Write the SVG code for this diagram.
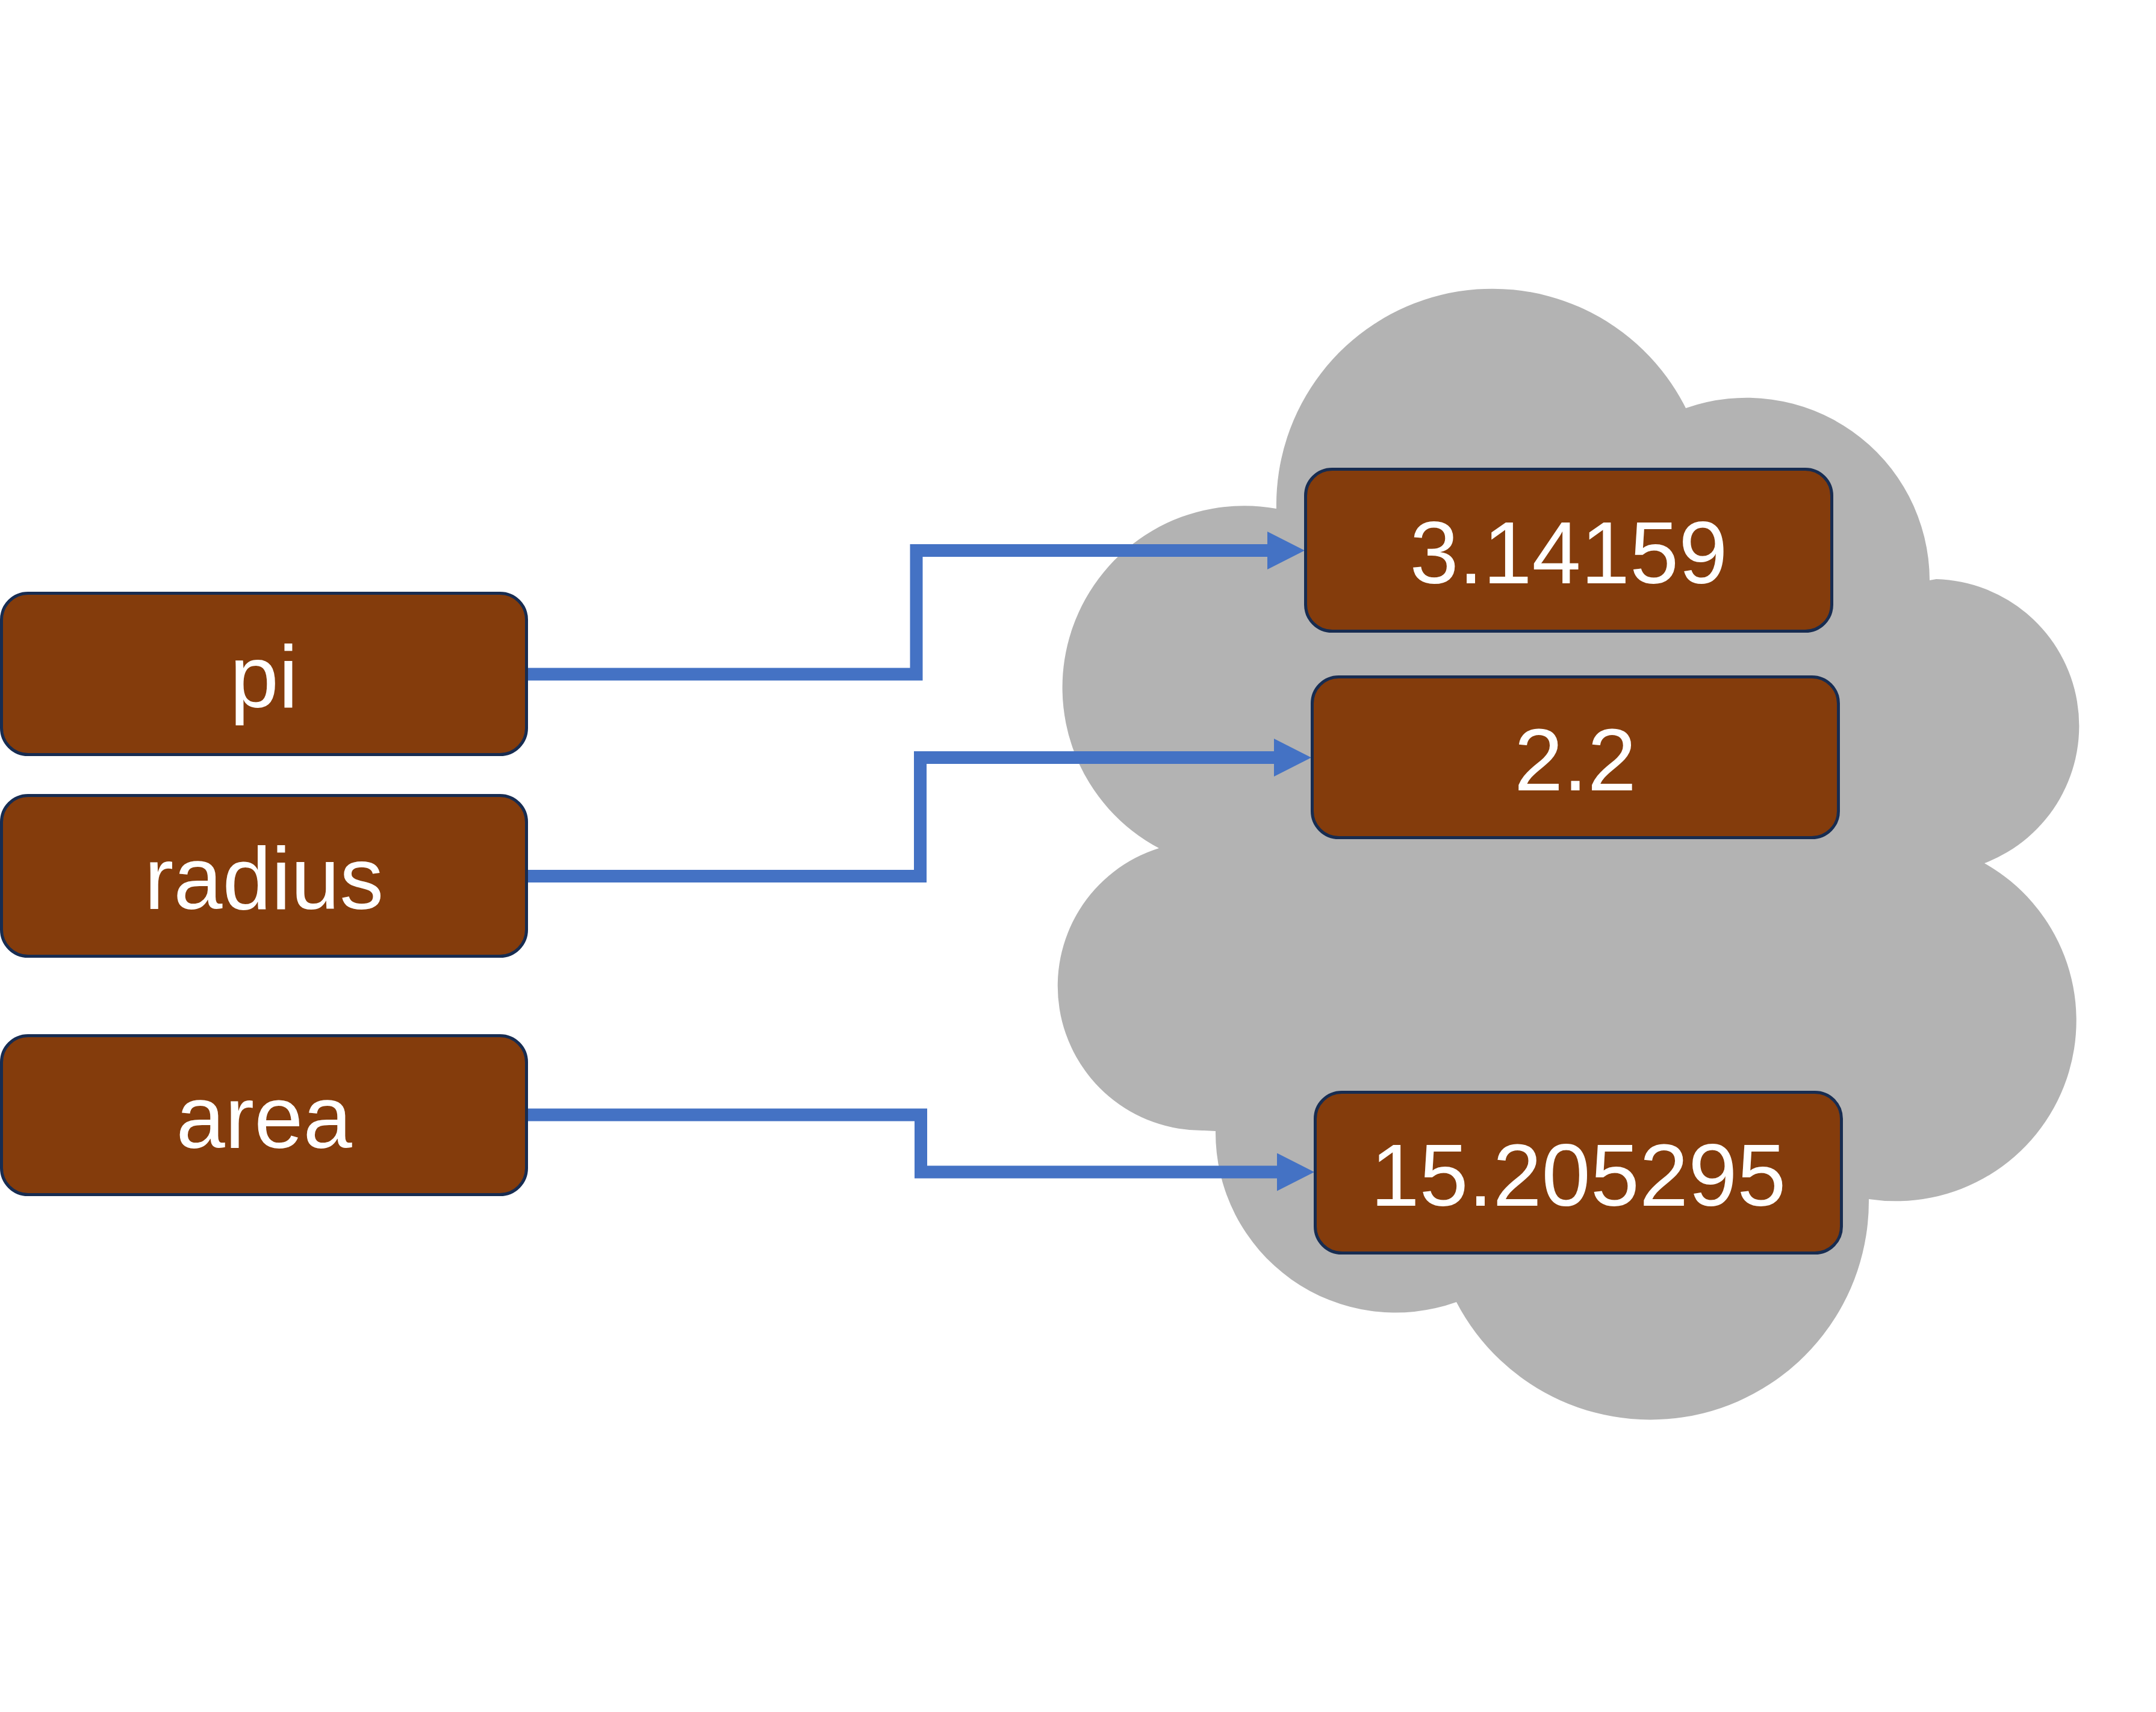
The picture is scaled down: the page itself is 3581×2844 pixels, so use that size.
<svg xmlns="http://www.w3.org/2000/svg" width="3581" height="2844" viewBox="0 0 3581 2844">
  <defs>
    <style>
      .box { fill: #843C0C; stroke: #172C51; stroke-width: 5; }
      .lbl { font-family: "Liberation Sans", Arial, sans-serif; font-size: 146px; fill: #FFFFFF; text-anchor: middle; }
      .conn { fill: none; stroke: #4472C4; stroke-width: 21; stroke-linejoin: miter; stroke-linecap: butt; }
      .cloud { fill: #B3B3B3; stroke: none; }
    </style>
    <marker id="arrow" viewBox="0 0 62 63" refX="0" refY="31.5" markerWidth="62" markerHeight="63" markerUnits="userSpaceOnUse" orient="auto">
      <path d="M0,0 L62,31.5 L0,63 Z" fill="#4472C4"/>
    </marker>
  </defs>
  <rect width="3581" height="2844" fill="#FFFFFF"/>

  <g id="cloud">
    <path class="cloud" d="M 2120 845 A 359 359 0 0 1 2800 678 A 304 304 0 0 1 3205 964 L 3216 962 A 244 244 0 0 1 3296 1434 A 300 300 0 0 1 3104 1992 A 363 363 0 0 1 2419 2163 A 299 299 0 0 1 2019 1879 L 2000 1878 A 240 240 0 0 1 1925 1409 A 302 302 0 0 1 2120 845 Z"/>
  </g>

  <g id="connectors">
    <path class="conn" d="M 877 1120 H 1522 V 914.5 H 2105" marker-end="url(#arrow)"/>
    <path class="conn" d="M 877 1455.5 H 1528.5 V 1258.5 H 2116" marker-end="url(#arrow)"/>
    <path class="conn" d="M 877 1852 H 1529.5 V 1947 H 2121" marker-end="url(#arrow)"/>
  </g>

  <g id="node-pi">
    <rect class="box" x="2.5" y="985.5" width="872" height="268" rx="44" ry="44"/>
    <text class="lbl" x="438.5" y="1175">pi</text>
  </g>
  <g id="node-radius">
    <rect class="box" x="2.5" y="1321.5" width="872" height="267" rx="44" ry="44"/>
    <text class="lbl" x="438.5" y="1510">radius</text>
  </g>
  <g id="node-area">
    <rect class="box" x="2.5" y="1720.5" width="872" height="264" rx="44" ry="44"/>
    <text class="lbl" x="438.5" y="1907">area</text>
  </g>

  <g id="value-pi">
    <rect class="box" x="2168.5" y="779.5" width="874" height="269" rx="44" ry="44"/>
    <text class="lbl" x="2605.5" y="969">3.14159</text>
  </g>
  <g id="value-radius">
    <rect class="box" x="2179.5" y="1124.5" width="874" height="267" rx="44" ry="44"/>
    <text class="lbl" x="2616.5" y="1313">2.2</text>
  </g>
  <g id="value-area">
    <rect class="box" x="2184.5" y="1814.5" width="874" height="267" rx="44" ry="44"/>
    <text class="lbl" x="2621.5" y="2003">15.205295</text>
  </g>
</svg>
